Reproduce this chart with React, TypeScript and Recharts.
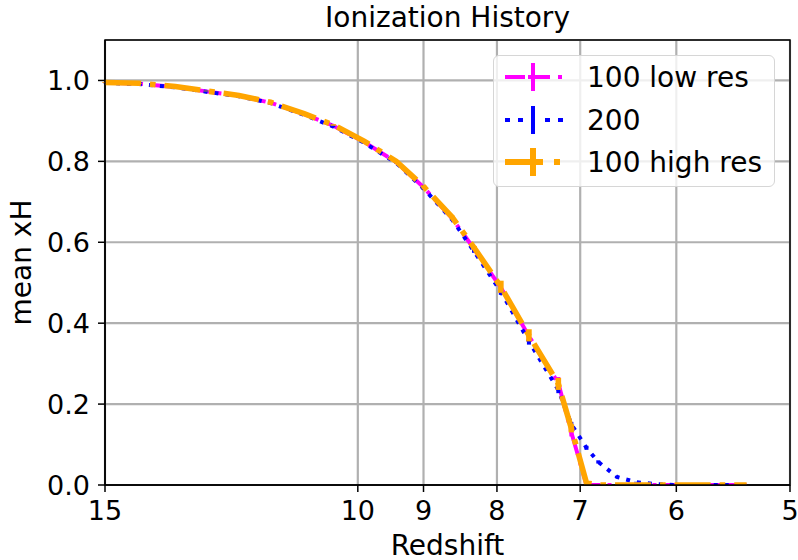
import { LineChart, Line, XAxis, YAxis, CartesianGrid, Legend, ErrorBar, ReferenceArea } from 'recharts'

const redshift = [15, 14.2, 13.4, 12.75, 12.1, 11.5, 10.9, 10.4, 9.9, 9.4, 9.0, 8.6, 8.3, 7.95, 7.6, 7.25, 7.1, 6.93, 6.8, 6.6, 6.4, 6.2, 6.0, 5.8, 5.6, 5.36]

const lowRes = [0.995, 0.992, 0.984, 0.973, 0.962, 0.945, 0.917, 0.888, 0.848, 0.798, 0.736, 0.66, 0.584, 0.488, 0.368, 0.252, 0.13, 0, 0, 0, 0, 0, 0, 0, 0, 0]
const lowErr = [0.001, 0.001, 0.001, 0.001, 0.001, 0.002, 0.002, 0.002, 0.002, 0.002, 0.003, 0.003, 0.004, 0.015, 0.015, 0.015, 0.01, 0, 0, 0, 0, 0, 0, 0, 0, 0]

const res200 = [0.994, 0.991, 0.983, 0.972, 0.961, 0.944, 0.915, 0.886, 0.846, 0.796, 0.733, 0.657, 0.578, 0.478, 0.355, 0.235, 0.15, 0.092, 0.057, 0.02, 0.007, 0.002, 0, 0, 0, 0]
const err200 = [0.001, 0.001, 0.001, 0.001, 0.001, 0.002, 0.002, 0.002, 0.002, 0.002, 0.003, 0.003, 0.004, 0.008, 0.008, 0.008, 0.006, 0.005, 0.004, 0.003, 0.001, 0, 0, 0, 0, 0]

const highRes = [0.995, 0.993, 0.985, 0.974, 0.963, 0.946, 0.918, 0.89, 0.85, 0.8, 0.738, 0.663, 0.587, 0.49, 0.37, 0.25, 0.14, 0.005, 0, 0, 0, 0, 0, 0, 0, 0]
const highErr = [0.001, 0.001, 0.001, 0.001, 0.001, 0.002, 0.002, 0.002, 0.002, 0.002, 0.003, 0.003, 0.004, 0.015, 0.015, 0.015, 0.01, 0, 0, 0, 0, 0, 0, 0, 0, 0]

const xTicks = [15, 10, 9, 8, 7, 6, 5]
const yTicks = [0, 0.2, 0.4, 0.6, 0.8, 1.0]

const data = redshift.map((z, i) => ({
  z,
  low: lowRes[i],
  lowErr: lowErr[i],
  mid: res200[i],
  midErr: err200[i],
  high: highRes[i],
  highErr: highErr[i],
}))

const FONT = 'DejaVu Sans, sans-serif'

function LegendBox() {
  return (
    <div
      style={{
        width: 282,
        height: 132,
        border: '1.5px solid #d6d6d6',
        borderRadius: 6,
        background: 'rgba(255,255,255,0.8)',
        boxSizing: 'border-box',
        position: 'relative',
      }}
    >
      <svg width={282} height={132} style={{ position: 'absolute', left: -1.5, top: -1.5 }}>
        {/* 100 low res */}
        <g stroke="#ff00ff" strokeWidth={4}>
          <line x1={12} y1={22} x2={32} y2={22} />
          <line x1={35} y1={22} x2={57} y2={22} />
          <line x1={65} y1={22} x2={69} y2={22} />
          <line x1={40} y1={8} x2={40} y2={36} />
        </g>
        {/* 200 */}
        <g stroke="#0000ff" strokeWidth={4}>
          <line x1={12} y1={65} x2={17} y2={65} />
          <line x1={25} y1={65} x2={30} y2={65} />
          <line x1={52} y1={65} x2={57} y2={65} />
          <line x1={65} y1={65} x2={70} y2={65} />
          <line x1={40} y1={51} x2={40} y2={79} />
        </g>
        {/* 100 high res */}
        <g stroke="#ffa500" strokeWidth={6}>
          <line x1={12} y1={107} x2={50} y2={107} />
          <line x1={61} y1={107} x2={67} y2={107} />
          <line x1={40} y1={93} x2={40} y2={121} />
        </g>
        <g fontSize={28} fill="#000" fontFamily={FONT}>
          <text x={94} y={32}>100 low res</text>
          <text x={94} y={75}>200</text>
          <text x={94} y={117}>100 high res</text>
        </g>
      </svg>
    </div>
  )
}

export default function App() {
  return (
    <div style={{ position: 'absolute', left: 0, top: 0, width: 798, height: 560, background: '#fff', fontFamily: FONT }}>
      <div
        style={{
          position: 'absolute',
          left: 105,
          top: 4,
          width: 685,
          textAlign: 'center',
          fontSize: 28,
          lineHeight: '28px',
          color: '#000',
        }}
      >
        Ionization History
      </div>
      <LineChart width={798} height={560} data={data} margin={{ top: 40, right: 8, bottom: 0, left: 10 }}>
        <CartesianGrid stroke="#b0b0b0" strokeWidth={2.2} />
        <XAxis
          dataKey="z"
          type="number"
          scale="log"
          domain={[5, 15]}
          ticks={xTicks}
          reversed
          allowDataOverflow
          height={75}
          tick={{ fontSize: 27, fill: '#000' }}
          tickSize={7}
          tickMargin={9}
          axisLine={{ stroke: '#000', strokeWidth: 1.5 }}
          tickLine={{ stroke: '#000', strokeWidth: 1.5 }}
          label={{
            content: () => (
              <text x={447.5} y={555} textAnchor="middle" fontSize={28} fill="#000">
                Redshift
              </text>
            ),
          }}
        />
        <YAxis
          type="number"
          domain={[0, 1.1]}
          ticks={yTicks}
          allowDataOverflow
          width={95}
          tick={{ fontSize: 27, fill: '#000' }}
          tickFormatter={(v: number) => v.toFixed(1)}
          tickSize={7}
          tickMargin={8}
          axisLine={{ stroke: '#000', strokeWidth: 1.5 }}
          tickLine={{ stroke: '#000', strokeWidth: 1.5 }}
          label={{
            content: () => (
              <text x={31} y={262.5} transform="rotate(-90 31 262.5)" textAnchor="middle" fontSize={28} fill="#000">
                mean xH
              </text>
            ),
          }}
        />
        <Legend
          layout="vertical"
          align="center"
          verticalAlign="middle"
          wrapperStyle={{ left: 493, top: 55, width: 282, height: 132 }}
          content={() => <LegendBox />}
        />
        <Line
          dataKey="low"
          name="100 low res"
          stroke="#ff00ff"
          strokeWidth={4}
          strokeDasharray="27 7 4 7"
          dot={false}
          activeDot={false}
          isAnimationActive={false}
        >
          <ErrorBar dataKey="lowErr" direction="y" width={0} stroke="#ff00ff" strokeWidth={4} isAnimationActive={false} />
        </Line>
        <Line
          dataKey="mid"
          name="200"
          stroke="#0000ff"
          strokeWidth={4}
          strokeDasharray="4 7"
          dot={false}
          activeDot={false}
          isAnimationActive={false}
        >
          <ErrorBar dataKey="midErr" direction="y" width={0} stroke="#0000ff" strokeWidth={4} isAnimationActive={false} />
        </Line>
        <Line
          dataKey="high"
          name="100 high res"
          stroke="#ffa500"
          strokeWidth={5.6}
          strokeDasharray="36 9 5.6 9"
          dot={false}
          activeDot={false}
          isAnimationActive={false}
        >
          <ErrorBar dataKey="highErr" direction="y" width={0} stroke="#ffa500" strokeWidth={5.6} isAnimationActive={false} />
        </Line>
        <ReferenceArea x1={15} x2={5} y1={0} y2={1.1} fill="none" stroke="#000" strokeWidth={1.5} />
      </LineChart>
    </div>
  )
}
